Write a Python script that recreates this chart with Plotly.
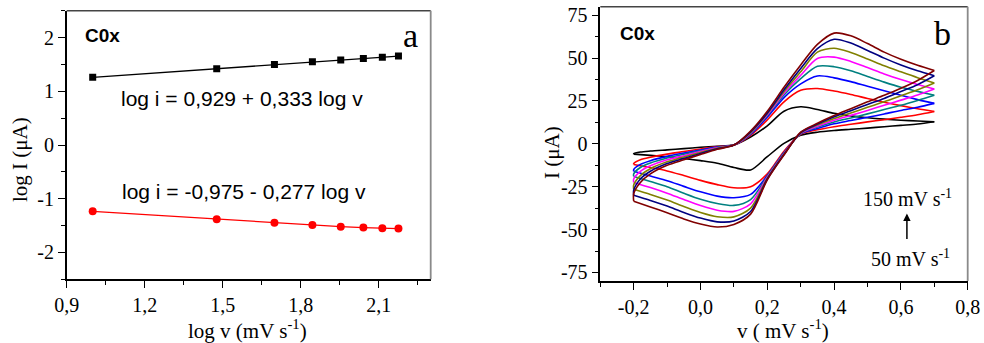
import plotly.graph_objects as go

# ---------------- Panel a data ----------------
LOGV = [1.0, 1.477, 1.699, 1.845, 1.954, 2.041, 2.114, 2.176]
LOGI_OX = [1.26, 1.42, 1.50, 1.55, 1.58, 1.61, 1.635, 1.655]
LOGI_RED = [-1.235, -1.383, -1.445, -1.488, -1.52, -1.537, -1.55, -1.556]

XA_TICKS = [0.9, 1.2, 1.5, 1.8, 2.1]
XA_LABELS = ["0,9", "1,2", "1,5", "1,8", "2,1"]
YA_TICKS = [-2, -1, 0, 1, 2]
YA_LABELS = ["-2", "-1", "0", "1", "2"]

EQ_OX = "log i = 0,929 + 0,333 log v"
EQ_RED = "log i = -0,975 - 0,277 log v"

# ---------------- Panel b data ----------------
FWD_X = [-0.2, -0.18, -0.15, -0.1, -0.05, 0.0, 0.05, 0.1, 0.15, 0.2,
         0.25, 0.3, 0.35, 0.4, 0.45, 0.5, 0.55, 0.6, 0.65, 0.7]
REV_X = [0.7, 0.65, 0.6, 0.55, 0.5, 0.45, 0.4, 0.35, 0.3, 0.25,
         0.2, 0.15, 0.1, 0.05, 0.0, -0.05, -0.1, -0.15, -0.2]

CURVE_NAMES = ["c1", "c2", "c3", "c4", "c5", "c6", "c7", "c8"]
CURVE_COLORS = ["#000000", "#ff0000", "#0000ff", "#008080",
                "#ff00ff", "#808000", "#000080", "#800000"]

FWD_Y = [
    [-5.8, -4.8, -4.2, -3.5, -2.8, -2.0, -1.4, -0.6, 4.0, 10.5, 19.0, 21.6, 20.0, 17.8, 16.3, 15.2, 14.4, 13.8, 13.3, 12.9],
    [-11.5, -9.3, -7.8, -6.0, -4.5, -3.0, -1.6, -0.7, 5.0, 14.0, 24.5, 31.2, 32.3, 30.8, 28.8, 26.5, 24.3, 22.3, 20.5, 18.9],
    [-15.0, -12.0, -9.8, -7.3, -5.4, -3.6, -1.9, -0.7, 5.5, 15.5, 27.0, 35.0, 39.6, 38.5, 36.3, 33.6, 31.0, 28.3, 25.8, 23.6],
    [-17.5, -13.8, -11.2, -8.3, -6.1, -4.0, -2.1, -0.7, 6.0, 16.5, 28.5, 38.0, 45.2, 45.0, 42.6, 39.3, 36.0, 33.0, 30.6, 28.3],
    [-20.5, -16.0, -12.8, -9.3, -6.9, -4.5, -2.3, -0.7, 6.3, 17.0, 29.5, 40.0, 49.8, 50.6, 48.1, 44.5, 40.8, 37.5, 34.6, 32.0],
    [-24.0, -18.5, -14.5, -10.5, -7.7, -5.0, -2.6, -0.7, 6.6, 17.5, 30.5, 42.0, 53.5, 55.8, 53.3, 49.5, 45.5, 42.0, 38.6, 35.5],
    [-27.0, -20.5, -16.0, -11.5, -8.5, -5.6, -2.9, -0.7, 7.0, 18.0, 31.5, 44.0, 55.5, 61.0, 58.8, 54.5, 50.0, 46.0, 42.6, 39.7],
    [-29.0, -22.5, -17.5, -12.5, -9.3, -6.2, -3.2, -0.7, 7.5, 19.0, 33.0, 46.0, 58.0, 64.6, 63.0, 58.5, 53.5, 49.3, 45.8, 42.8],
]
REV_Y = [
    [12.9, 11.6, 10.8, 10.0, 9.2, 8.5, 7.8, 6.8, 5.0, 0.3, -7.5, -15.2, -13.8, -11.3, -9.8, -8.5, -7.5, -6.7, -6.0],
    [18.9, 17.0, 15.5, 14.1, 12.8, 11.4, 10.0, 8.2, 5.6, -4.3, -17.5, -25.0, -25.6, -23.8, -21.3, -18.5, -15.8, -13.8, -12.0],
    [23.6, 21.3, 19.5, 17.4, 15.5, 13.6, 11.7, 9.0, 5.8, -5.0, -18.5, -29.5, -31.4, -30.5, -28.0, -24.8, -21.5, -18.8, -16.0],
    [28.3, 25.3, 22.5, 20.0, 17.5, 15.1, 12.8, 9.8, 6.0, -5.4, -19.0, -32.5, -35.9, -34.8, -32.3, -28.8, -25.0, -22.0, -19.0],
    [32.0, 28.5, 25.5, 22.5, 19.5, 16.6, 13.8, 10.3, 6.2, -5.7, -19.5, -35.0, -39.4, -38.7, -36.0, -32.5, -28.8, -25.5, -22.5],
    [35.5, 31.5, 28.0, 24.5, 21.3, 18.0, 14.8, 11.0, 6.4, -6.0, -20.0, -37.5, -42.6, -42.5, -40.0, -36.5, -32.8, -29.5, -26.5],
    [39.7, 34.5, 30.5, 26.5, 23.0, 19.3, 15.8, 11.5, 6.6, -6.2, -20.5, -39.5, -45.0, -45.5, -43.3, -40.0, -36.3, -33.0, -30.0],
    [42.8, 37.0, 32.4, 28.3, 24.5, 20.5, 16.5, 12.0, 6.8, -6.5, -21.0, -41.0, -47.0, -48.5, -46.8, -43.8, -40.2, -36.8, -33.5],
]

XB_TICKS = [-0.2, 0.0, 0.2, 0.4, 0.6, 0.8]
XB_LABELS = ["-0,2", "0,0", "0,2", "0,4", "0,6", "0,8"]
YB_TICKS = [-75, -50, -25, 0, 25, 50, 75]
YB_LABELS = ["-75", "-50", "-25", "0", "25", "50", "75"]

SERIF = "Liberation Serif, Times New Roman, serif"
SANS = "Liberation Sans, Arial, sans-serif"
W, H = 984, 343

fig = go.Figure()

# Panel a
fig.add_trace(go.Scatter(x=LOGV, y=LOGI_OX, mode="lines+markers",
                         line=dict(color="black", width=1.3),
                         marker=dict(symbol="square", size=7, color="black"),
                         xaxis="x", yaxis="y", showlegend=False))
fig.add_trace(go.Scatter(x=LOGV, y=LOGI_RED, mode="lines+markers",
                         line=dict(color="#ff0000", width=1.3),
                         marker=dict(symbol="circle", size=8, color="#ff0000"),
                         xaxis="x", yaxis="y", showlegend=False))

# Panel b
for name, col, fy, ry in zip(CURVE_NAMES, CURVE_COLORS, FWD_Y, REV_Y):
    fig.add_trace(go.Scatter(x=[REV_X[-1]] + FWD_X, y=[ry[-1]] + fy, mode="lines",
                             line=dict(color=col, width=1.6, shape="spline", smoothing=0.8),
                             xaxis="x2", yaxis="y2", showlegend=False, name=name))
    fig.add_trace(go.Scatter(x=REV_X, y=ry, mode="lines",
                             line=dict(color=col, width=1.6, shape="spline", smoothing=0.8),
                             xaxis="x2", yaxis="y2", showlegend=False, name=name))


def py2paper(py):
    return 1 - py / H


def px2paper(px):
    return px / W


axis_common = dict(showgrid=False, zeroline=False, showline=True, linecolor="black",
                   linewidth=1.5, ticks="outside", ticklen=7, tickwidth=1.3,
                   tickcolor="black", automargin=False,
                   tickfont=dict(family=SERIF, size=20, color="black"))

fig.update_layout(
    width=W, height=H, margin=dict(l=0, r=0, t=0, b=0),
    paper_bgcolor="white", plot_bgcolor="white",
    xaxis=dict(domain=[px2paper(66.7), px2paper(430.7)], range=[0.9, 2.3],
               tickvals=XA_TICKS, ticktext=XA_LABELS, anchor="y",
               minor=dict(dtick=0.15, tick0=0.9, ticks="outside", ticklen=4,
                          tickcolor="black", tickwidth=1.2),
               **axis_common),
    yaxis=dict(domain=[py2paper(279.3), py2paper(10.7)], range=[-2.5, 2.5],
               tickvals=YA_TICKS, ticktext=YA_LABELS, anchor="x",
               minor=dict(dtick=0.5, tick0=0, ticks="outside", ticklen=4,
                          tickcolor="black", tickwidth=1.2),
               **axis_common),
    xaxis2=dict(domain=[px2paper(600.3), px2paper(967.7)], range=[-0.3, 0.8],
                tickvals=XB_TICKS, ticktext=XB_LABELS, anchor="y2",
                minor=dict(dtick=0.1, tick0=-0.3, ticks="outside", ticklen=4,
                           tickcolor="black", tickwidth=1.2),
                **axis_common),
    yaxis2=dict(domain=[py2paper(281), py2paper(6.7)], range=[-80, 80],
                tickvals=YB_TICKS, ticktext=YB_LABELS, anchor="x2",
                minor=dict(dtick=12.5, tick0=0, ticks="outside", ticklen=4,
                           tickcolor="black", tickwidth=1.2),
                **axis_common),
)

# frame top/right edges
for xr, yr in (("x", "y"), ("x2", "y2")):
    fig.add_shape(type="line", xref=f"{xr} domain", yref=f"{yr} domain",
                  x0=0, x1=1, y0=1, y1=1, line=dict(color="#444444", width=1.5))
    fig.add_shape(type="line", xref=f"{xr} domain", yref=f"{yr} domain",
                  x0=1, x1=1, y0=0, y1=1, line=dict(color="#8a8a8a", width=1.8))


def ann(text, px, py, size, family, bold=False, xanchor="center", angle=0):
    fig.add_annotation(text=f"<b>{text}</b>" if bold else text,
                       x=px2paper(px), y=py2paper(py), xref="paper", yref="paper",
                       showarrow=False, xanchor=xanchor, yanchor="middle",
                       textangle=angle,
                       font=dict(family=family, size=size, color="black"))


# panel a texts
ann("C0x", 102.5, 35, 19, SANS, bold=True)
ann("a", 410.7, 35, 34, SERIF)
ann(EQ_OX, 242, 99, 21, SANS)
ann(EQ_RED, 244, 191, 21, SANS)
ann("log I (μA)", 20, 160, 21, SERIF, angle=-90)
ann("log v (mV s<sup>-1</sup>)", 248, 329, 21, SERIF)

# panel b texts
ann("C0x", 637.7, 33.3, 19, SANS, bold=True)
ann("b", 942, 33, 34, SERIF)
ann("I (μA)", 552, 153, 21, SERIF, angle=-90)
ann("v ( mV s<sup>-1</sup>)", 783, 329, 21, SERIF)
ann("150 mV s<sup>-1</sup>", 907.5, 198, 20, SERIF)
ann("50 mV s<sup>-1</sup>", 910, 258, 20, SERIF)

fig.add_annotation(x=0.618, y=-40.6, ax=0.618, ay=-56.4, xref="x2", yref="y2",
                   axref="x2", ayref="y2", text="", showarrow=True,
                   arrowhead=2, arrowsize=1, arrowwidth=1.5, arrowcolor="black")

fig.write_html("out.html")
